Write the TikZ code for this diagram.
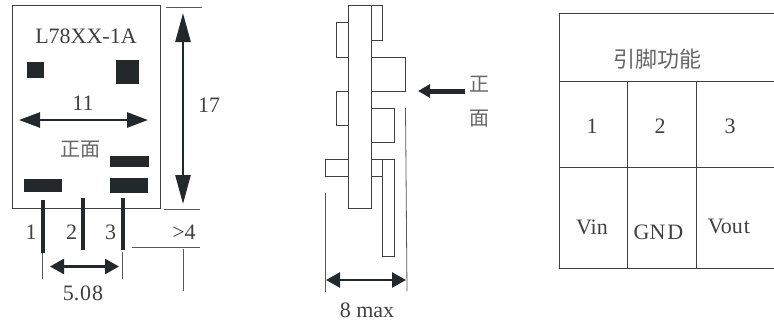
\documentclass[tikz,border=0pt]{standalone}
\usepackage{fontspec}
\setmainfont{Liberation Serif}
\newfontfamily\cjk{Noto Sans CJK SC}
\usetikzlibrary{arrows.meta}
\definecolor{tinta}{HTML}{23282B}
\tikzset{
    linea/.style={draw=black!75,line width=1pt},
    guia/.style={draw=black!65,line width=0.8pt},
    negro/.style={fill=tinta},
    pata/.style={draw=tinta,line width=4.5pt},
    flecha/.style={draw=tinta,line width=2.6pt,{Triangle[length=#1,width=15pt]}-{Triangle[length=#1,width=15pt]}},
    texto/.style={inner sep=0pt,text=black!75,font=\fontsize{22}{22}\selectfont},
    zh/.style={inner sep=0pt,text=black!60,font=\cjk\fontsize{20}{20}\selectfont}
}
\begin{document}
\begin{tikzpicture}[x=1pt,y=-1pt]
    \useasboundingbox (0,0) rectangle (774,325);
    % Vista frontal
    \draw[linea] (12,5.5) rectangle (160,208.5);
    \node[texto] (nombre) at (86,36) {L78XX-1A};
    \fill[negro] (27,61.5) rectangle (43.5,77.5);
    \fill[negro] (115.5,60) rectangle (139,83.5);
    \fill[negro] (110,155.5) rectangle (148.5,167);
    \fill[negro] (109.5,177.5) rectangle (147.5,192.5);
    \fill[negro] (23.5,178.5) rectangle (62,191.5);
    % Cotas de la vista frontal
    \node[texto] (ancho) at (83,103) {11};
    \coordinate (anchoA) at (19,120);
    \coordinate (anchoB) at (148,120);
    \draw[flecha=21pt] (anchoA) -- (anchoB);
    \node[zh] (frente) at (80,150) {正面};
    \coordinate (altoA) at (183,13);
    \coordinate (altoB) at (183,204);
    \draw[flecha=29pt] (altoA) -- (altoB);
    \node[texto] (alto) at (209,105) {17};
    \draw[guia] (166,7.5) -- (202,7.5);
    \draw[guia] (164,209) -- (200,209);
    % Patas
    \draw[pata] (43,199.5) -- (43,253);
    \draw[pata] (83,198) -- (83,250);
    \draw[pata] (123,198) -- (123,250);
    \node[texto] (uno) at (31,232) {1};
    \node[texto] (dos) at (71.5,232) {2};
    \node[texto] (tres) at (110.5,232) {3};
    \draw[guia] (42.5,253) -- (42.5,279);
    \draw[guia] (122,252) -- (122,279);
    \coordinate (pasoA) at (50,266.5);
    \coordinate (pasoB) at (119,266.5);
    \draw[flecha=14pt] (pasoA) -- (pasoB);
    \node[texto] (paso) at (83,293) {5.\kern1pt0\kern1pt8};
    \node[texto] (largo) at (184,232) {>4};
    \draw[guia] (132,247) -- (200,247);
    \draw[guia] (183,249) -- (183,291);
    % Vista lateral
    \draw[linea] (348.5,5.5) rectangle (371,208.5);
    \draw[linea] (371,5.5) rectangle (382.5,40);
    \draw[linea] (336.5,22.5) rectangle (348.5,57);
    \draw[linea] (371,57) rectangle (405.5,91);
    \draw[linea] (336.5,91) rectangle (348.5,125);
    \draw[linea] (371,108) rectangle (394,142);
    \draw[linea] (325.5,159.5) rectangle (348.5,176);
    \draw[linea] (371,159.5) -- (382.5,159.5);
    \draw[linea] (371,176) -- (382.5,176);
    \draw[linea] (382.5,159.5) rectangle (394,256);
    \coordinate (frenteA) at (465,91);
    \coordinate (frenteB) at (418,91);
    \draw[draw=tinta,line width=5pt,-{Triangle[length=12pt,width=13pt]}] (frenteA) -- (frenteB);
    \node[zh] (lado) at (479,84) {正};
    \node[zh] (ladoB) at (479,119) {面};
    \draw[guia] (405.5,108) -- (407,291);
    \draw[guia] (325.5,193) -- (325.5,292);
    \coordinate (maxA) at (326,280);
    \coordinate (maxB) at (406,280);
    \draw[flecha=14pt] (maxA) -- (maxB);
    \node[texto] (maximo) at (367,310) {8 max};
    % Tabla de pines
    \draw[linea] (774,13) -- (559.5,13) -- (559.5,268.5) -- (774,268.5);
    \draw[linea] (559.5,81.5) -- (774,81.5);
    \draw[linea] (559.5,167) -- (774,167);
    \draw[linea] (627.5,81.5) -- (627.5,268.5);
    \draw[linea] (696,81.5) -- (696,268.5);
    \node[zh,font=\cjk\fontsize{22}{22}\selectfont] (titulo) at (657,59) {引脚功能};
    \node[texto] (col1) at (592,126) {1};
    \node[texto] (col2) at (660,126) {2};
    \node[texto] (col3) at (730,126) {3};
    \node[texto] (vin) at (592,227) {Vin};
    \node[texto] (gnd) at (658.5,232) {GN\kern2ptD};
    \node[texto] (vout) at (729,226) {Vou\kern1pt t};
\end{tikzpicture}
\end{document}
